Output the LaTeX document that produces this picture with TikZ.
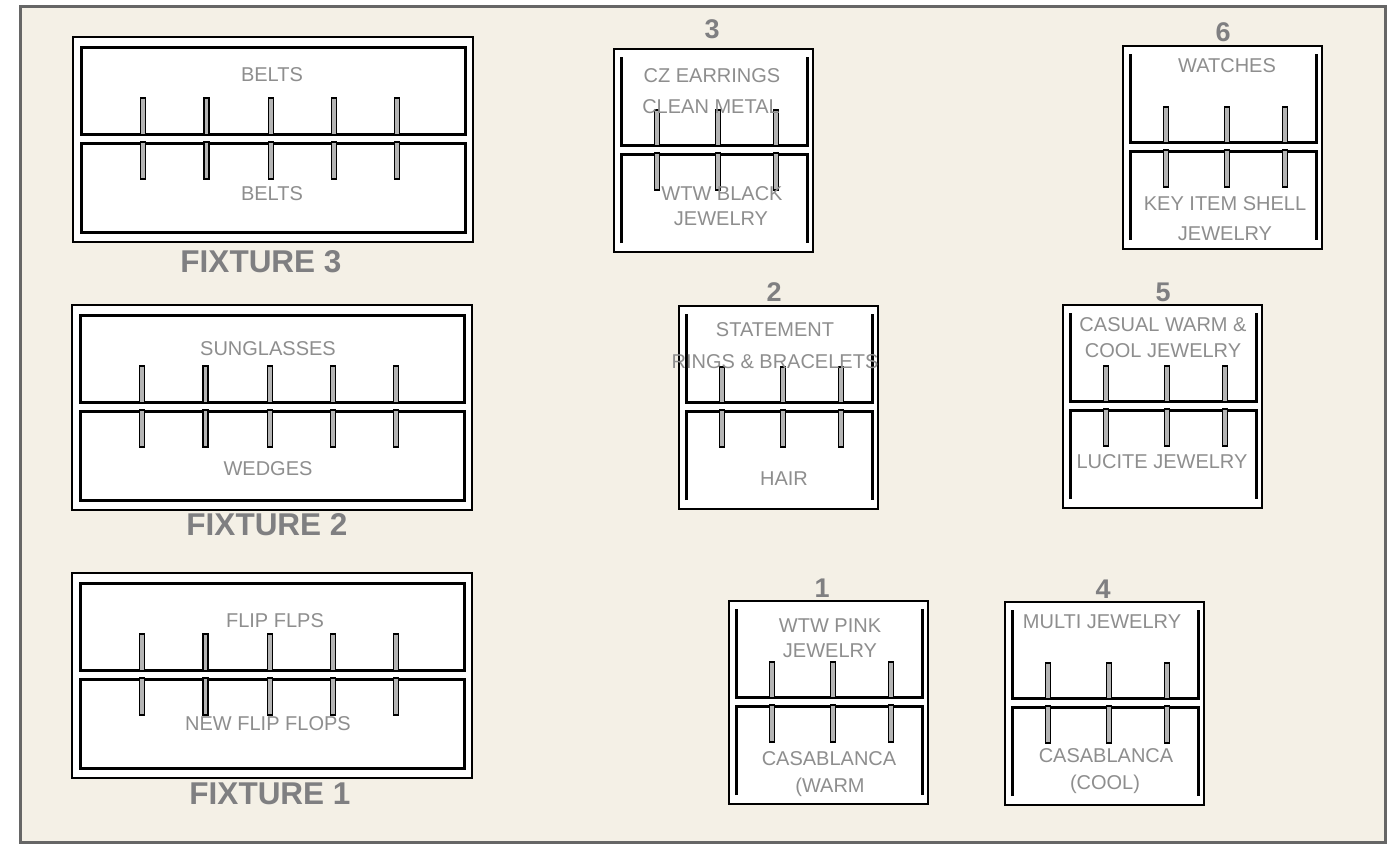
\documentclass[tikz,border=0pt]{standalone}
\usepackage{fontspec}
\setmainfont{Liberation Sans}
\definecolor{beige}{HTML}{F4F0E6}
\definecolor{frame}{HTML}{666666}
\definecolor{txt}{HTML}{8E8E8E}
\definecolor{hd}{HTML}{7F7F81}
\definecolor{pegfill}{HTML}{B4B4B4}
\tikzset{
  lbl/.style={anchor=base, inner sep=0pt, text=txt, font=\fontsize{20}{22}\selectfont},
  fixlbl/.style={anchor=base, inner sep=0pt, text=hd, font=\fontsize{31.5}{34}\selectfont\bfseries},
  numlbl/.style={anchor=base, inner sep=0pt, text=hd, font=\fontsize{27}{30}\selectfont\bfseries},
  pegbox/.style={draw=black, fill=pegfill, line width=1.5pt},
  bar/.style={draw=black, line width=3pt, line join=miter},
}
\newcommand\bigfix[2]{%
  \begin{scope}[shift={(#1,#2)}]
    \draw[fill=white, line width=2.4pt] (0,0) rectangle (400,205);
    \draw[bar] (8.5,10) rectangle (392,97);
    \draw[bar] (8.5,106) rectangle (392,195);
    \foreach \px in {70,133.5,198,261,324}{
      \draw[pegbox] (\px-2.6,61) rectangle (\px+2.6,97.8);
      \draw[pegbox] (\px-2.6,105.2) rectangle (\px+2.6,142);
    }
  \end{scope}}
\newcommand\smallfix[2]{%
  \begin{scope}[shift={(#1,#2)}]
    \draw[fill=white, line width=2.6pt] (0,0) rectangle (199,203);
    \draw[bar] (7,8) -- (7,96) -- (193,96) -- (193,8);
    \draw[bar] (7,194) -- (7,105) -- (193,105) -- (193,194);
    \foreach \px in {43,104,162}{
      \draw[pegbox] (\px-2.6,61) rectangle (\px+2.6,96.8);
      \draw[pegbox] (\px-2.6,104.2) rectangle (\px+2.6,141);
    }
  \end{scope}}
\begin{document}
\begin{tikzpicture}[x=1pt,y=-1pt]
\useasboundingbox (0,0) rectangle (1388,844);
\fill[white] (0,0) rectangle (1388,844);
\draw[frame, fill=beige, line width=3pt] (20,6.5) rectangle (1385,842);

% big fixtures
\bigfix{73}{37}
\bigfix{72}{305}
\bigfix{72}{573}

% small fixtures
\smallfix{614}{49}
\smallfix{1123}{46}
\smallfix{679}{306}
\smallfix{1063}{305}
\smallfix{729}{601}
\smallfix{1005}{602}

% fixture 3 texts
\node[lbl] (f3a) at (272,81) {BELTS};
\node[lbl] (f3b) at (272,200) {BELTS};
\node[fixlbl] (f3l) at (261,272) {FIXTURE 3};
% fixture 2 texts
\node[lbl] (f2a) at (268,355) {SUNGLASSES};
\node[lbl] (f2b) at (268,475) {WEDGES};
\node[fixlbl] (f2l) at (267,535) {FIXTURE 2};
% fixture 1 texts
\node[lbl] (f1a) at (275,627) {FLIP FLPS};
\node[lbl] (f1b) at (268,730) {NEW FLIP FLOPS};
\node[fixlbl] (f1l) at (270,804) {FIXTURE 1};

% small 3
\node[numlbl] (n3) at (712,38) {3};
\node[lbl] (s3a) at (712,82) {CZ EARRINGS};
\node[lbl] (s3b) at (711,113) {CLEAN METAL};
\node[lbl] (s3c) at (722,200) {WTW BLACK};
\node[lbl] (s3d) at (721,225) {JEWELRY};
% small 6
\node[numlbl] (n6) at (1223,41) {6};
\node[lbl] (s6a) at (1227,72) {WATCHES};
\node[lbl] (s6b) at (1225,210) {KEY ITEM SHELL};
\node[lbl] (s6c) at (1225,240) {JEWELRY};
% small 2
\node[numlbl] (n2) at (774,301) {2};
\node[lbl] (s2a) at (775,336) {STATEMENT};
\node[lbl] (s2b) at (775,368) {RINGS \& BRACELETS};
\node[lbl] (s2c) at (784,485) {HAIR};
% small 5
\node[numlbl] (n5) at (1163,301) {5};
\node[lbl] (s5a) at (1163,331) {CASUAL WARM \&};
\node[lbl] (s5b) at (1163,357) {COOL JEWELRY};
\node[lbl] (s5c) at (1162,468) {LUCITE JEWELRY};
% small 1
\node[numlbl] (n1) at (822,597) {1};
\node[lbl] (s1a) at (830,632) {WTW PINK};
\node[lbl] (s1b) at (830,657) {JEWELRY};
\node[lbl] (s1c) at (829,765) {CASABLANCA};
\node[lbl] (s1d) at (830,792) {(WARM};
% small 4
\node[numlbl] (n4) at (1103,598) {4};
\node[lbl] (s4a) at (1102,628) {MULTI JEWELRY};
\node[lbl] (s4b) at (1106,762) {CASABLANCA};
\node[lbl] (s4c) at (1105,789) {(COOL)};
\end{tikzpicture}
\end{document}
